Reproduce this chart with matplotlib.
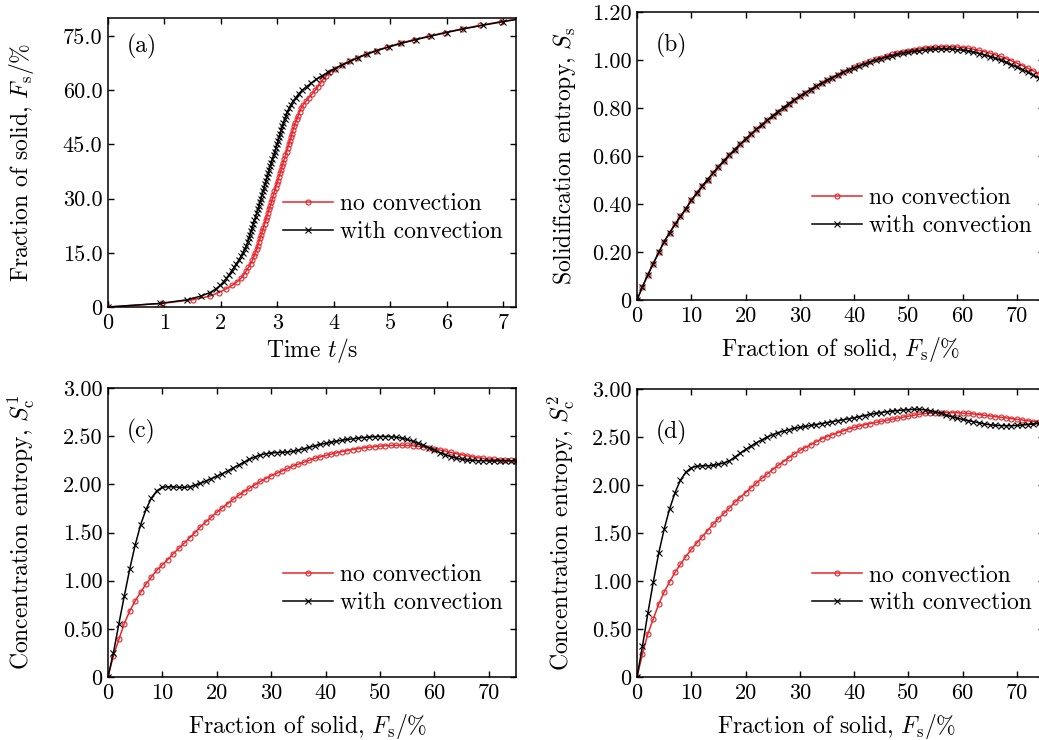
import matplotlib
matplotlib.use("Agg")
import matplotlib.pyplot as plt

plt.rcParams["font.family"] = "cmr10"
plt.rcParams["mathtext.fontset"] = "cm"
plt.rcParams["axes.unicode_minus"] = False
plt.rcParams["axes.formatter.use_mathtext"] = True

# fraction of solid grid, %
FS = [0, 1, 2, 3, 4, 5, 6, 7, 8, 9, 10, 11, 12, 13, 14, 15, 16, 17, 18, 19,
      20, 21, 22, 23, 24, 25, 26, 27, 28, 29, 30, 31, 32, 33, 34, 35, 36, 37, 38, 39,
      40, 41, 42, 43, 44, 45, 46, 47, 48, 49, 50, 51, 52, 53, 54, 55, 56, 57, 58, 59,
      60, 61, 62, 63, 64, 65, 66, 67, 68, 69, 70, 71, 72, 73, 74, 75, 76, 77, 78, 79, 80]

# (a) time (s) at which each FS value is reached
t_noconv = [0.00, 0.96, 1.50, 1.80, 1.96, 2.09, 2.20, 2.29, 2.36, 2.41,
            2.45, 2.49, 2.53, 2.56, 2.585, 2.61, 2.635, 2.655, 2.675, 2.695,
            2.715, 2.735, 2.755, 2.775, 2.795, 2.815, 2.835, 2.855, 2.875, 2.895,
            2.915, 2.93, 2.95, 2.97, 2.99, 3.01, 3.03, 3.05, 3.07, 3.085,
            3.105, 3.125, 3.145, 3.165, 3.185, 3.205, 3.225, 3.245, 3.26, 3.28,
            3.30, 3.32, 3.345, 3.37, 3.395, 3.42, 3.46, 3.51, 3.56, 3.62,
            3.67, 3.72, 3.77, 3.81, 3.87, 3.94, 4.02, 4.14, 4.28, 4.42,
            4.57, 4.75, 4.95, 5.17, 5.42, 5.69, 5.97, 6.27, 6.60, 6.96, 7.35]
t_conv = [0.00, 0.92, 1.40, 1.64, 1.81, 1.91, 1.99, 2.05, 2.10, 2.15,
          2.19, 2.235, 2.275, 2.32, 2.355, 2.39, 2.42, 2.455, 2.475, 2.495,
          2.515, 2.535, 2.555, 2.575, 2.595, 2.615, 2.635, 2.655, 2.675, 2.69,
          2.71, 2.725, 2.745, 2.765, 2.78, 2.80, 2.82, 2.84, 2.855, 2.875,
          2.895, 2.915, 2.935, 2.955, 2.975, 2.995, 3.015, 3.03, 3.05, 3.07,
          3.09, 3.11, 3.13, 3.155, 3.18, 3.21, 3.24, 3.28, 3.33, 3.38,
          3.44, 3.52, 3.60, 3.69, 3.79, 3.90, 4.02, 4.15, 4.29, 4.43,
          4.59, 4.77, 4.98, 5.20, 5.45, 5.72, 6.00, 6.30, 6.64, 7.00, 7.40]

# (b) solidification entropy
ss_noconv = [0.0, 0.055, 0.105, 0.152, 0.198, 0.243, 0.28, 0.315, 0.348, 0.38,
             0.415, 0.445, 0.474, 0.502, 0.529, 0.555, 0.58, 0.604, 0.627, 0.649,
             0.67, 0.691, 0.711, 0.73, 0.749, 0.767, 0.785, 0.802, 0.818, 0.834,
             0.849, 0.863, 0.877, 0.89, 0.903, 0.915, 0.927, 0.938, 0.949, 0.959,
             0.969, 0.978, 0.987, 0.995, 1.003, 1.01, 1.017, 1.023, 1.029, 1.034,
             1.039, 1.043, 1.047, 1.05, 1.052, 1.054, 1.055, 1.055, 1.055, 1.054,
             1.052, 1.049, 1.045, 1.04, 1.035, 1.029, 1.022, 1.015, 1.006, 0.997,
             0.987, 0.977, 0.966, 0.955, 0.943, 0.93]
ss_conv = [0.0, 0.055, 0.105, 0.152, 0.198, 0.243, 0.28, 0.315, 0.348, 0.38,
           0.415, 0.445, 0.474, 0.502, 0.529, 0.555, 0.58, 0.604, 0.627, 0.649,
           0.67, 0.691, 0.711, 0.73, 0.749, 0.767, 0.785, 0.802, 0.818, 0.834,
           0.849, 0.863, 0.877, 0.89, 0.903, 0.915, 0.927, 0.938, 0.949, 0.959,
           0.968, 0.976, 0.984, 0.992, 0.999, 1.006, 1.012, 1.018, 1.023, 1.028,
           1.032, 1.036, 1.039, 1.042, 1.044, 1.045, 1.046, 1.046, 1.045, 1.043,
           1.041, 1.037, 1.032, 1.027, 1.021, 1.014, 1.007, 0.999, 0.99, 0.98,
           0.97, 0.96, 0.949, 0.937, 0.925, 0.912]

# (c) concentration entropy S_c^1
sc1_noconv = [0.0, 0.22, 0.39, 0.555, 0.685, 0.79, 0.88, 0.965, 1.04, 1.11,
              1.165, 1.22, 1.28, 1.335, 1.39, 1.445, 1.50, 1.56, 1.61, 1.66,
              1.71, 1.755, 1.80, 1.845, 1.885, 1.925, 1.96, 1.995, 2.03, 2.06,
              2.09, 2.115, 2.14, 2.165, 2.19, 2.21, 2.23, 2.25, 2.27, 2.285,
              2.30, 2.314, 2.327, 2.34, 2.351, 2.362, 2.371, 2.379, 2.386, 2.392,
              2.397, 2.401, 2.404, 2.406, 2.406, 2.404, 2.40, 2.395, 2.388, 2.38,
              2.37, 2.358, 2.345, 2.332, 2.32, 2.308, 2.296, 2.286, 2.277, 2.27,
              2.264, 2.259, 2.255, 2.251, 2.248, 2.245]
sc1_conv = [0.0, 0.25, 0.55, 0.84, 1.12, 1.37, 1.58, 1.74, 1.86, 1.935,
            1.97, 1.975, 1.975, 1.97, 1.968, 1.975, 1.99, 2.01, 2.035, 2.06,
            2.085, 2.11, 2.14, 2.17, 2.20, 2.23, 2.26, 2.285, 2.305, 2.318,
            2.325, 2.33, 2.333, 2.336, 2.343, 2.355, 2.37, 2.385, 2.40, 2.415,
            2.425, 2.437, 2.448, 2.458, 2.466, 2.473, 2.48, 2.486, 2.491, 2.495,
            2.497, 2.497, 2.495, 2.49, 2.48, 2.466, 2.448, 2.427, 2.405, 2.38,
            2.355, 2.33, 2.308, 2.288, 2.272, 2.26, 2.252, 2.248, 2.246, 2.245,
            2.245, 2.245, 2.245, 2.245, 2.245, 2.245]

# (d) concentration entropy S_c^2
sc2_noconv = [0.0, 0.24, 0.45, 0.605, 0.76, 0.885, 0.99, 1.09, 1.175, 1.255,
              1.33, 1.395, 1.46, 1.525, 1.59, 1.65, 1.705, 1.76, 1.82, 1.87,
              1.92, 1.97, 2.02, 2.07, 2.115, 2.16, 2.205, 2.245, 2.285, 2.325,
              2.36, 2.39, 2.42, 2.45, 2.48, 2.505, 2.525, 2.545, 2.565, 2.585,
              2.60, 2.615, 2.628, 2.64, 2.652, 2.663, 2.674, 2.685, 2.696, 2.707,
              2.717, 2.727, 2.737, 2.745, 2.75, 2.753, 2.755, 2.755, 2.754, 2.752,
              2.749, 2.745, 2.74, 2.734, 2.727, 2.72, 2.713, 2.706, 2.699, 2.692,
              2.685, 2.677, 2.669, 2.661, 2.653, 2.645]
sc2_conv = [0.0, 0.32, 0.665, 0.99, 1.29, 1.54, 1.75, 1.92, 2.05, 2.135,
            2.18, 2.195, 2.2, 2.2, 2.205, 2.215, 2.23, 2.25, 2.29, 2.33,
            2.37, 2.405, 2.44, 2.47, 2.50, 2.525, 2.545, 2.562, 2.577, 2.59,
            2.60, 2.61, 2.62, 2.63, 2.64, 2.65, 2.66, 2.67, 2.68, 2.69,
            2.70, 2.712, 2.724, 2.736, 2.746, 2.755, 2.763, 2.77, 2.776, 2.781,
            2.785, 2.788, 2.788, 2.784, 2.775, 2.762, 2.746, 2.728, 2.71, 2.695,
            2.684, 2.672, 2.66, 2.648, 2.637, 2.628, 2.622, 2.619, 2.618, 2.618,
            2.62, 2.625, 2.63, 2.636, 2.643, 2.65]

xt_time = [0, 1, 2, 3, 4, 5, 6, 7]
xt_fs = [0, 10, 20, 30, 40, 50, 60, 70]
yt_a = [0, 15, 30, 45, 60, 75]
yl_a = ["0", "15.0", "30.0", "45.0", "60.0", "75.0"]
yt_b = [0, 0.2, 0.4, 0.6, 0.8, 1.0, 1.2]
yl_b = ["0", "0.20", "0.40", "0.60", "0.80", "1.00", "1.20"]
yt_c = [0, 0.5, 1.0, 1.5, 2.0, 2.5, 3.0]
yl_c = ["0", "0.50", "1.00", "1.50", "2.00", "2.50", "3.00"]

RED = "#e8262c"
TSZ = 16     # tick labels
LSZ = 17     # axis labels, legend, panel tags
fs_lab = r"Fraction of solid, $F_{\mathrm{s}}/\%$"

fig = plt.figure(figsize=(10.39, 7.40), dpi=100)
axa = fig.add_axes([0.1039, 0.5851, 0.3927, 0.3905])
axb = fig.add_axes([0.6131, 0.5946, 0.3917, 0.3892])
axc = fig.add_axes([0.1039, 0.0851, 0.3927, 0.3905])
axd = fig.add_axes([0.6131, 0.0851, 0.3917, 0.3892])

def style(ax, xt, yt, yl, tag, ty):
    ax.set_xticks(xt)
    ax.set_xticklabels([str(v) for v in xt])
    ax.set_yticks(yt)
    ax.set_yticklabels(yl)
    ax.tick_params(direction="in", top=True, right=True, length=4, width=1,
                   labelsize=TSZ, pad=4)
    ax.tick_params(axis="x", pad=5)
    for s in ax.spines.values():
        s.set_linewidth(1.1)
    ax.text(0.047, ty, tag, transform=ax.transAxes, fontsize=LSZ, va="center")

def curves(ax, x, y1, y2, anchor, x2=None):
    ax.plot(x, y1, color=RED, lw=1.1, marker="o", ms=3.6, mfc="none", mec=RED,
            mew=0.8, label="no convection")
    ax.plot(x if x2 is None else x2, y2, color="black", lw=1.1, marker="x",
            ms=3.8, mew=0.8, label="with convection")
    ax.legend(loc="upper left", bbox_to_anchor=anchor, frameon=False, fontsize=LSZ,
              numpoints=1, handlelength=2.12, handletextpad=0.3, labelspacing=0.24,
              borderpad=0, borderaxespad=0)

# (a)
curves(axa, t_noconv, FS, FS, (0.428, 0.394), x2=t_conv)
axa.set_xlim(0, 7.23)
axa.set_ylim(0, 80)
style(axa, xt_time, yt_a, yl_a, "(a)", 0.9)
axa.set_xlabel(r"Time $t$/s", fontsize=LSZ)
axa.set_ylabel(fs_lab, fontsize=LSZ)
axa.xaxis.set_label_coords(0.5, -0.1)
axa.yaxis.set_label_coords(-0.176, 0.5)

# (b)
curves(axb, FS[:76], ss_noconv, ss_conv, (0.43, 0.392))
axb.set_xlim(0, 75)
axb.set_ylim(0, 1.2)
style(axb, xt_fs, yt_b, yl_b, "(b)", 0.885)
axb.set_xlabel(fs_lab, fontsize=LSZ)
axb.set_ylabel(r"Solidification entropy, $S_{\mathrm{s}}$", fontsize=LSZ)
axb.xaxis.set_label_coords(0.5, -0.12)
axb.yaxis.set_label_coords(-0.145, 0.5)

# (c)
curves(axc, FS[:76], sc1_noconv, sc1_conv, (0.428, 0.391))
axc.set_xlim(0, 75)
axc.set_ylim(0, 3.0)
style(axc, xt_fs, yt_c, yl_c, "(c)", 0.85)
axc.set_xlabel(fs_lab, fontsize=LSZ)
axc.set_ylabel(r"Concentration entropy, $S_{\mathrm{c}}^{1}$", fontsize=LSZ)
axc.xaxis.set_label_coords(0.49, -0.122)
axc.yaxis.set_label_coords(-0.174, 0.5)

# (d)
curves(axd, FS[:76], sc2_noconv, sc2_conv, (0.43, 0.391))
axd.set_xlim(0, 75)
axd.set_ylim(0, 3.0)
style(axd, xt_fs, yt_c, yl_c, "(d)", 0.85)
axd.set_xlabel(fs_lab, fontsize=LSZ)
axd.set_ylabel(r"Concentration entropy, $S_{\mathrm{c}}^{2}$", fontsize=LSZ)
axd.xaxis.set_label_coords(0.49, -0.122)
axd.yaxis.set_label_coords(-0.148, 0.5)

fig.savefig("out.png", dpi=100)
